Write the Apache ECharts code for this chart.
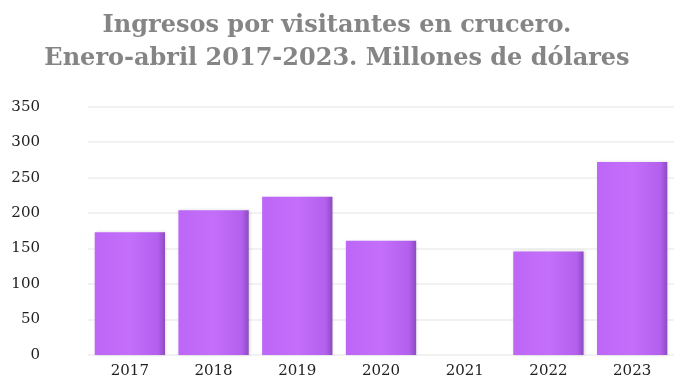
<!DOCTYPE html>
<html><head><meta charset="utf-8">
<script src="https://cdn.jsdelivr.net/npm/echarts@6/dist/echarts.min.js"></script>
<style>html,body{margin:0;padding:0;background:#fff}#c{width:674px;height:382px}</style>
</head><body><div id="c"></div>
<script>
const categories = ['2017','2018','2019','2020','2021','2022','2023'];
const values = [173, 204, 223, 161, 0, 146, 272];
const yTicks = [0, 50, 100, 150, 200, 250, 300, 350];
const titleLines = ['Ingresos por visitantes en crucero.', 'Enero-abril 2017-2023. Millones de dólares'];

const FONT = '"DejaVu Serif", serif';
const chart = echarts.init(document.getElementById('c'));
chart.setOption({
  backgroundColor: '#fff',
  animation: false,
  title: {
    text: titleLines.join('\n'),
    left: 'center', top: 4,
    textStyle: { fontFamily: FONT, fontSize: 24, fontWeight: 'bold', color: '#858585', lineHeight: 33 }
  },
  grid: { left: 88, right: -6, top: 106.7, bottom: 27, containLabel: false },
  xAxis: {
    type: 'category', data: categories,
    axisLine: { show: false }, axisTick: { show: false },
    axisLabel: { fontFamily: FONT, fontSize: 15, color: '#222', margin: 9 }
  },
  yAxis: {
    type: 'value', min: yTicks[0], max: yTicks[yTicks.length-1], interval: 50,
    axisLine: { show: false }, axisTick: { show: false },
    axisLabel: { fontFamily: FONT, fontSize: 15, color: '#222', margin: 48, align: 'right' },
    splitLine: { lineStyle: { color: '#eeeeee', width: 1.5 } }
  },
  series: [{
    type: 'bar', data: values, barCategoryGap: '16%',
    itemStyle: {
      color: new echarts.graphic.LinearGradient(0, 0, 1, 0, [
        { offset: 0, color: '#bd66f7' },
        { offset: 0.5, color: '#c46ffb' },
        { offset: 0.9, color: '#b360ee' },
        { offset: 1, color: '#8d4bc2' }
      ]),
      shadowColor: 'rgba(0,0,0,0.15)', shadowBlur: 3, shadowOffsetX: 1
    }
  }]
});
</script></body></html>
